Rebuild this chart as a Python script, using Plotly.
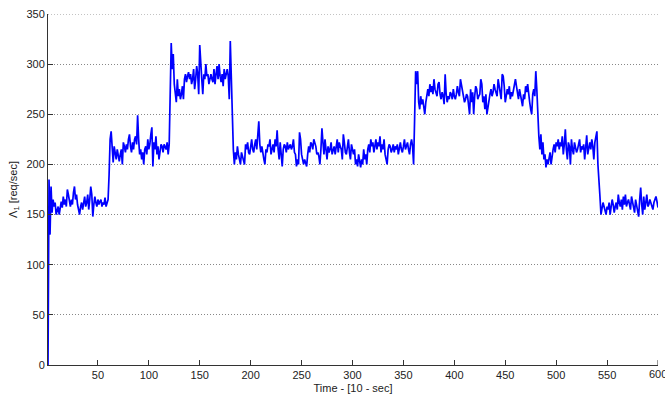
import plotly.graph_objects as go

seg_a = [0, 185, 130, 178, 152, 165, 158, 162, 150, 155, 158, 150, 160, 163, 157, 168, 160, 165, 158, 175,
         170, 162, 158, 165, 160, 172, 178, 165, 170, 160, 155, 150, 158, 162, 155, 165, 168, 158, 162, 170,
         155, 165, 178, 170, 148, 160, 168, 162, 158, 165, 160, 163, 165, 158, 162, 160, 167, 158, 162, 165]
seg_b = [190, 225, 233, 210, 202, 218, 212, 205, 215, 208, 203, 210, 215, 200, 222, 218, 212, 220, 215, 225,
         230, 218, 212, 222, 215, 225, 228, 220, 249, 225, 210, 215, 205, 212, 200, 215, 218, 210, 225, 215,
         220, 230, 237, 198, 222, 215, 228, 210, 218, 205, 215, 220, 218, 212, 220, 218, 215, 222, 210, 220]
seg_c = [265, 321, 295, 310, 280, 270, 262, 285, 268, 275, 265, 270, 278, 265, 285, 290, 282, 288, 292, 285,
         290, 280, 285, 295, 275, 285, 298, 290, 270, 319, 295, 285, 270, 290, 285, 300, 288, 290, 280, 285,
         290, 285, 282, 295, 280, 290, 298, 285, 300, 288, 282, 290, 278, 295, 285, 290, 295, 288, 265, 323]
seg_d = [285, 245, 215, 200, 212, 205, 218, 210, 203, 200, 212, 208, 205, 200, 220, 215, 222, 212, 210, 218,
         225, 215, 212, 220, 225, 215, 235, 243, 220, 212, 218, 210, 205, 200, 215, 212, 220, 218, 225, 210,
         215, 220, 212, 225, 218, 234, 215, 205, 222, 210, 198, 215, 220, 218, 212, 222, 215, 218, 220, 215,
         218, 225, 212, 210, 198, 205, 200, 232, 225, 210, 205, 200, 205, 202, 198, 210, 218, 212, 222, 220,
         215, 225, 222, 218, 210, 212, 208, 200, 215, 236, 222, 210, 225, 215, 205, 218, 212, 215, 222, 210,
         215, 218, 210, 220, 225, 212, 222, 218, 215, 205, 230, 222, 212, 210, 218, 225, 212, 205, 220, 215,
         210, 215, 200, 205, 198, 210, 202, 197, 205, 200, 215, 205, 210, 200, 215, 220, 212, 225, 218, 222,
         212, 220, 225, 215, 222, 218, 228, 212, 220, 215, 225, 210, 205, 200, 215, 220, 218, 212, 215, 220,
         212, 218, 215, 220, 210, 218, 222, 215, 212, 218, 225, 215, 218, 222, 215, 210, 220, 225, 218, 200]
seg_e = [245, 293, 280, 293, 262, 255, 268, 260, 265, 258, 250, 262, 270, 275, 268, 280, 272, 278, 270, 285,
         275, 272, 268, 280, 282, 270, 265, 272, 268, 260, 290, 270, 262, 268, 265, 272, 270, 265, 275, 268,
         265, 270, 278, 272, 268, 285, 280, 275, 270, 262, 265, 270, 268, 260, 250, 275, 262, 272, 250, 268,
         278, 275, 265, 268, 270, 285, 280, 262, 268, 255, 270, 250, 258, 265, 270, 275, 268, 272, 280, 275,
         270, 268, 285, 278, 272, 265, 290, 288, 278, 262, 268, 275, 270, 278, 265, 272, 268, 275, 280, 285,
         278, 270, 265, 275, 268, 262, 258, 270, 265, 278, 272, 280, 268, 262, 255, 250, 270, 275, 268, 293]
seg_f = [275, 245, 228, 215, 230, 210, 222, 205, 210, 197, 205, 200, 205, 212, 200, 210, 215, 220, 212, 222,
         218, 225, 215, 222, 218, 228, 210, 220, 235, 215, 205, 222, 218, 200, 225, 215, 210, 222, 218, 212,
         215, 220, 225, 212, 218, 215, 220, 205, 215, 229, 210, 218, 222, 215, 225, 218, 205, 222, 228, 233]
seg_g = [200, 178, 168, 150, 155, 162, 158, 152, 150, 158, 155, 162, 150, 158, 165, 160, 152, 158, 162, 155,
         170, 162, 158, 165, 155, 168, 160, 170, 158, 162, 165, 160, 155, 168, 162, 158, 152, 165, 160, 155,
         148, 165, 177, 160, 150, 168, 155, 162, 170, 158, 160, 165, 162, 158, 155, 162, 165, 168, 163, 157]

rate = seg_a + seg_b + seg_c + seg_d + seg_e + seg_f + seg_g
time = list(range(1, len(rate) + 1))

x_ticks = [50, 100, 150, 200, 250, 300, 350, 400, 450, 500, 550]
x_last_tick = 600
y_ticks = [0, 50, 100, 150, 200, 250, 300, 350]

tick_font = dict(family="Liberation Sans, Arial, sans-serif", size=11, color="#222222")

fig = go.Figure()
fig.add_trace(go.Scatter(x=time, y=rate, mode="lines",
                         line=dict(color="#0000FF", width=1.7), showlegend=False))

# top gridline at the upper range limit
fig.add_shape(type="line", xref="paper", x0=0, x1=1, yref="y", y0=y_ticks[-1], y1=y_ticks[-1],
              line=dict(color="#888888", width=1, dash="1px,2px"), layer="below")

# last x tick label (partially cut by the page edge, as in the original)
fig.add_annotation(x=x_last_tick, y=0, xref="x", yref="paper", text=str(x_last_tick),
                   showarrow=False, yanchor="top", xanchor="center", yshift=-1,
                   font=tick_font)
fig.add_shape(type="line", xref="x", x0=x_last_tick, x1=x_last_tick, yref="paper", y0=0, y1=0.014,
              line=dict(color="#333333", width=1))

fig.update_layout(
    width=665, height=400,
    margin=dict(l=48, r=7, t=14, b=33),
    plot_bgcolor="white", paper_bgcolor="white",
    font=tick_font,
    xaxis=dict(range=[1, 600], tickvals=x_ticks, ticks="inside", ticklen=5,
               tickcolor="#333", showline=True, linecolor="#333", linewidth=1,
               showgrid=False, zeroline=False, tickfont=tick_font,
               title=dict(text="Time - [10 - sec]", standoff=4, font=tick_font)),
    yaxis=dict(range=[0, 350], tickvals=y_ticks, ticks="inside", ticklen=5,
               tickcolor="#333", showline=True, linecolor="#333", linewidth=1,
               showgrid=True, gridcolor="#888888", griddash="1px,2px", gridwidth=1,
               zeroline=False, tickfont=tick_font,
               title=dict(text="Λ<sub>1</sub> [req/sec]", standoff=6, font=tick_font)),
)

fig.write_html("out.html")
